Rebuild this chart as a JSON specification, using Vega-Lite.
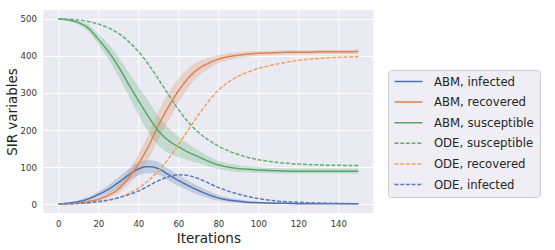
{
  "$schema": "https://vega.github.io/schema/vega-lite/v6.json",
  "width": 330,
  "height": 203,
  "autosize": "none",
  "padding": {"left": 43.3, "top": 10, "right": 181.7, "bottom": 37},
  "background": "white",
  "config": {
    "view": {"fill": "#eaeaf2", "stroke": null},
    "font": "DejaVu Sans",
    "axis": {"grid": true, "gridColor": "white", "gridWidth": 1, "domain": false, "ticks": false, "labelFontSize": 8.5, "labelColor": "#333333", "titleFontSize": 13.5, "titleFontWeight": "normal", "titleColor": "#222222"},
    "legend": {
      "orient": "none", "legendX": 344.7, "legendY": 60,
      "symbolType": "M-1,0L4.6,0", "symbolSize": 100, "symbolStrokeWidth": 1.5,
      "labelFontSize": 11.7, "labelColor": "#262626", "labelOffset": 28.4,
      "rowPadding": 7.6, "padding": 5.5, "fillColor": "#eeeef4", "strokeColor": "#cccccc", "cornerRadius": 3
    }
  },
  "datasets": {
    "abm": [
      {"t":0,"s":"ABM, infected","v":0,"lo":0,"hi":0},
      {"t":5,"s":"ABM, infected","v":3,"lo":2,"hi":4},
      {"t":10,"s":"ABM, infected","v":7,"lo":4,"hi":10},
      {"t":15,"s":"ABM, infected","v":14,"lo":9,"hi":19},
      {"t":20,"s":"ABM, infected","v":26,"lo":18,"hi":34},
      {"t":25,"s":"ABM, infected","v":40,"lo":29,"hi":51},
      {"t":30,"s":"ABM, infected","v":58,"lo":44,"hi":72},
      {"t":35,"s":"ABM, infected","v":78,"lo":62,"hi":94},
      {"t":40,"s":"ABM, infected","v":95,"lo":77,"hi":113},
      {"t":45,"s":"ABM, infected","v":101,"lo":83,"hi":119},
      {"t":50,"s":"ABM, infected","v":96,"lo":79,"hi":113},
      {"t":55,"s":"ABM, infected","v":80,"lo":64,"hi":96},
      {"t":60,"s":"ABM, infected","v":64,"lo":49,"hi":79},
      {"t":65,"s":"ABM, infected","v":50,"lo":37,"hi":63},
      {"t":70,"s":"ABM, infected","v":37,"lo":25,"hi":49},
      {"t":75,"s":"ABM, infected","v":26,"lo":16,"hi":36},
      {"t":80,"s":"ABM, infected","v":17,"lo":9,"hi":25},
      {"t":85,"s":"ABM, infected","v":11,"lo":5,"hi":17},
      {"t":90,"s":"ABM, infected","v":8,"lo":3,"hi":13},
      {"t":95,"s":"ABM, infected","v":5,"lo":1,"hi":9},
      {"t":100,"s":"ABM, infected","v":4,"lo":1,"hi":7},
      {"t":105,"s":"ABM, infected","v":3,"lo":1,"hi":5},
      {"t":110,"s":"ABM, infected","v":2,"lo":0,"hi":4},
      {"t":115,"s":"ABM, infected","v":2,"lo":0,"hi":4},
      {"t":120,"s":"ABM, infected","v":1,"lo":0,"hi":2.5},
      {"t":125,"s":"ABM, infected","v":1,"lo":0,"hi":2},
      {"t":130,"s":"ABM, infected","v":1,"lo":0,"hi":2},
      {"t":135,"s":"ABM, infected","v":1,"lo":0,"hi":2},
      {"t":140,"s":"ABM, infected","v":1,"lo":0,"hi":2},
      {"t":145,"s":"ABM, infected","v":1,"lo":0,"hi":2},
      {"t":150,"s":"ABM, infected","v":1,"lo":0,"hi":2},

      {"t":0,"s":"ABM, recovered","v":0,"lo":0,"hi":0},
      {"t":5,"s":"ABM, recovered","v":1,"lo":0.5,"hi":1.5},
      {"t":10,"s":"ABM, recovered","v":3,"lo":2,"hi":4},
      {"t":15,"s":"ABM, recovered","v":7,"lo":5,"hi":9},
      {"t":20,"s":"ABM, recovered","v":13,"lo":9,"hi":17},
      {"t":25,"s":"ABM, recovered","v":24,"lo":17,"hi":31},
      {"t":30,"s":"ABM, recovered","v":40,"lo":29,"hi":51},
      {"t":35,"s":"ABM, recovered","v":70,"lo":52,"hi":88},
      {"t":40,"s":"ABM, recovered","v":108,"lo":82,"hi":134},
      {"t":45,"s":"ABM, recovered","v":155,"lo":122,"hi":188},
      {"t":50,"s":"ABM, recovered","v":212,"lo":174,"hi":250},
      {"t":55,"s":"ABM, recovered","v":262,"lo":224,"hi":300},
      {"t":60,"s":"ABM, recovered","v":305,"lo":272,"hi":338},
      {"t":65,"s":"ABM, recovered","v":340,"lo":314,"hi":366},
      {"t":70,"s":"ABM, recovered","v":365,"lo":345,"hi":385},
      {"t":75,"s":"ABM, recovered","v":380,"lo":365,"hi":395},
      {"t":80,"s":"ABM, recovered","v":391,"lo":380,"hi":402},
      {"t":85,"s":"ABM, recovered","v":398,"lo":389,"hi":407},
      {"t":90,"s":"ABM, recovered","v":402,"lo":394,"hi":410},
      {"t":95,"s":"ABM, recovered","v":405,"lo":398,"hi":412},
      {"t":100,"s":"ABM, recovered","v":407,"lo":401,"hi":413},
      {"t":105,"s":"ABM, recovered","v":408,"lo":402,"hi":414},
      {"t":110,"s":"ABM, recovered","v":409,"lo":403,"hi":415},
      {"t":115,"s":"ABM, recovered","v":410,"lo":404,"hi":416},
      {"t":120,"s":"ABM, recovered","v":410,"lo":404,"hi":416},
      {"t":125,"s":"ABM, recovered","v":410,"lo":404,"hi":416},
      {"t":130,"s":"ABM, recovered","v":411,"lo":405,"hi":417},
      {"t":135,"s":"ABM, recovered","v":411,"lo":405,"hi":417},
      {"t":140,"s":"ABM, recovered","v":411,"lo":405,"hi":417},
      {"t":145,"s":"ABM, recovered","v":411,"lo":405,"hi":417},
      {"t":150,"s":"ABM, recovered","v":412,"lo":406,"hi":418},

      {"t":0,"s":"ABM, susceptible","v":500,"lo":500,"hi":500},
      {"t":5,"s":"ABM, susceptible","v":497,"lo":495,"hi":499},
      {"t":10,"s":"ABM, susceptible","v":490,"lo":485,"hi":495},
      {"t":15,"s":"ABM, susceptible","v":475,"lo":466,"hi":484},
      {"t":20,"s":"ABM, susceptible","v":445,"lo":431,"hi":459},
      {"t":25,"s":"ABM, susceptible","v":412,"lo":392,"hi":432},
      {"t":30,"s":"ABM, susceptible","v":372,"lo":346,"hi":398},
      {"t":35,"s":"ABM, susceptible","v":325,"lo":293,"hi":357},
      {"t":40,"s":"ABM, susceptible","v":280,"lo":242,"hi":318},
      {"t":45,"s":"ABM, susceptible","v":237,"lo":195,"hi":279},
      {"t":50,"s":"ABM, susceptible","v":198,"lo":158,"hi":238},
      {"t":55,"s":"ABM, susceptible","v":172,"lo":138,"hi":206},
      {"t":60,"s":"ABM, susceptible","v":155,"lo":127,"hi":183},
      {"t":65,"s":"ABM, susceptible","v":140,"lo":118,"hi":162},
      {"t":70,"s":"ABM, susceptible","v":128,"lo":111,"hi":145},
      {"t":75,"s":"ABM, susceptible","v":116,"lo":102,"hi":130},
      {"t":80,"s":"ABM, susceptible","v":106,"lo":95,"hi":117},
      {"t":85,"s":"ABM, susceptible","v":100,"lo":90,"hi":110},
      {"t":90,"s":"ABM, susceptible","v":96,"lo":87,"hi":105},
      {"t":95,"s":"ABM, susceptible","v":94,"lo":86,"hi":102},
      {"t":100,"s":"ABM, susceptible","v":92,"lo":84,"hi":100},
      {"t":105,"s":"ABM, susceptible","v":91,"lo":84,"hi":98},
      {"t":110,"s":"ABM, susceptible","v":90,"lo":83,"hi":97},
      {"t":115,"s":"ABM, susceptible","v":89,"lo":82,"hi":96},
      {"t":120,"s":"ABM, susceptible","v":89,"lo":82,"hi":96},
      {"t":125,"s":"ABM, susceptible","v":89,"lo":82,"hi":96},
      {"t":130,"s":"ABM, susceptible","v":89,"lo":82,"hi":96},
      {"t":135,"s":"ABM, susceptible","v":89,"lo":82,"hi":96},
      {"t":140,"s":"ABM, susceptible","v":89,"lo":82,"hi":96},
      {"t":145,"s":"ABM, susceptible","v":89,"lo":82,"hi":96},
      {"t":150,"s":"ABM, susceptible","v":89,"lo":82,"hi":96}
    ],
    "ode": [
      {"t":0,"s":"ODE, susceptible","v":500},{"t":5,"s":"ODE, susceptible","v":499},{"t":10,"s":"ODE, susceptible","v":497},{"t":15,"s":"ODE, susceptible","v":493},{"t":20,"s":"ODE, susceptible","v":486},{"t":25,"s":"ODE, susceptible","v":476},{"t":30,"s":"ODE, susceptible","v":461},{"t":35,"s":"ODE, susceptible","v":440},{"t":40,"s":"ODE, susceptible","v":412},{"t":45,"s":"ODE, susceptible","v":378},{"t":50,"s":"ODE, susceptible","v":338},{"t":55,"s":"ODE, susceptible","v":296},{"t":60,"s":"ODE, susceptible","v":256},{"t":65,"s":"ODE, susceptible","v":221},{"t":70,"s":"ODE, susceptible","v":194},{"t":75,"s":"ODE, susceptible","v":173},{"t":80,"s":"ODE, susceptible","v":157},{"t":85,"s":"ODE, susceptible","v":144},{"t":90,"s":"ODE, susceptible","v":134},{"t":95,"s":"ODE, susceptible","v":126},{"t":100,"s":"ODE, susceptible","v":120},{"t":105,"s":"ODE, susceptible","v":116},{"t":110,"s":"ODE, susceptible","v":112},{"t":115,"s":"ODE, susceptible","v":110},{"t":120,"s":"ODE, susceptible","v":108},{"t":125,"s":"ODE, susceptible","v":107},{"t":130,"s":"ODE, susceptible","v":106},{"t":135,"s":"ODE, susceptible","v":105},{"t":140,"s":"ODE, susceptible","v":105},{"t":145,"s":"ODE, susceptible","v":104},{"t":150,"s":"ODE, susceptible","v":104},
      {"t":0,"s":"ODE, recovered","v":0},{"t":5,"s":"ODE, recovered","v":0.5},{"t":10,"s":"ODE, recovered","v":1.5},{"t":15,"s":"ODE, recovered","v":3},{"t":20,"s":"ODE, recovered","v":6},{"t":25,"s":"ODE, recovered","v":10},{"t":30,"s":"ODE, recovered","v":17},{"t":35,"s":"ODE, recovered","v":28},{"t":40,"s":"ODE, recovered","v":43},{"t":45,"s":"ODE, recovered","v":63},{"t":50,"s":"ODE, recovered","v":89},{"t":55,"s":"ODE, recovered","v":122},{"t":60,"s":"ODE, recovered","v":160},{"t":65,"s":"ODE, recovered","v":201},{"t":70,"s":"ODE, recovered","v":240},{"t":75,"s":"ODE, recovered","v":277},{"t":80,"s":"ODE, recovered","v":307},{"t":85,"s":"ODE, recovered","v":329},{"t":90,"s":"ODE, recovered","v":345},{"t":95,"s":"ODE, recovered","v":357},{"t":100,"s":"ODE, recovered","v":366},{"t":105,"s":"ODE, recovered","v":373},{"t":110,"s":"ODE, recovered","v":379},{"t":115,"s":"ODE, recovered","v":384},{"t":120,"s":"ODE, recovered","v":388},{"t":125,"s":"ODE, recovered","v":391},{"t":130,"s":"ODE, recovered","v":393},{"t":135,"s":"ODE, recovered","v":395},{"t":140,"s":"ODE, recovered","v":396},{"t":145,"s":"ODE, recovered","v":397},{"t":150,"s":"ODE, recovered","v":398},
      {"t":0,"s":"ODE, infected","v":0.5},{"t":5,"s":"ODE, infected","v":1},{"t":10,"s":"ODE, infected","v":2},{"t":15,"s":"ODE, infected","v":4},{"t":20,"s":"ODE, infected","v":7},{"t":25,"s":"ODE, infected","v":11},{"t":30,"s":"ODE, infected","v":17},{"t":35,"s":"ODE, infected","v":25},{"t":40,"s":"ODE, infected","v":35},{"t":45,"s":"ODE, infected","v":49},{"t":50,"s":"ODE, infected","v":63},{"t":55,"s":"ODE, infected","v":74},{"t":60,"s":"ODE, infected","v":79},{"t":65,"s":"ODE, infected","v":77},{"t":70,"s":"ODE, infected","v":69},{"t":75,"s":"ODE, infected","v":57},{"t":80,"s":"ODE, infected","v":45},{"t":85,"s":"ODE, infected","v":35},{"t":90,"s":"ODE, infected","v":27},{"t":95,"s":"ODE, infected","v":20},{"t":100,"s":"ODE, infected","v":15},{"t":105,"s":"ODE, infected","v":11},{"t":110,"s":"ODE, infected","v":8},{"t":115,"s":"ODE, infected","v":6},{"t":120,"s":"ODE, infected","v":5},{"t":125,"s":"ODE, infected","v":4},{"t":130,"s":"ODE, infected","v":3},{"t":135,"s":"ODE, infected","v":2.5},{"t":140,"s":"ODE, infected","v":2},{"t":145,"s":"ODE, infected","v":1.5},{"t":150,"s":"ODE, infected","v":1}
    ]
  },
  "encoding": {
    "x": {
      "field": "t", "type": "quantitative",
      "scale": {"domain": [-7.5, 157.5], "nice": false, "zero": false},
      "axis": {"values": [0,20,40,60,80,100,120,140], "labelPadding": 6, "title": "Iterations", "titleX": 165, "titleY": 29, "titleAlign": "center", "titleBaseline": "alphabetic"}
    }
  },
  "layer": [
    {
      "data": {"name": "abm"},
      "mark": {"type": "area", "opacity": 0.25, "interpolate": "monotone"},
      "encoding": {
        "y": {"field": "lo", "type": "quantitative", "scale": {"domain": [-24, 524], "nice": false, "zero": false},
              "axis": {"values": [0,100,200,300,400,500], "labelPadding": 7, "title": "SIR variables", "titleX": -31.3, "titleY": 101.5, "titleAngle": -90, "titleAlign": "center", "titleBaseline": "middle"}},
        "y2": {"field": "hi"},
        "fill": {"field": "s", "type": "nominal", "legend": null,
          "scale": {"domain": ["ABM, infected","ABM, recovered","ABM, susceptible"],
                    "range": ["#4c72b0","#dd8452","#55a868"]}}
      }
    },
    {
      "data": {"name": "abm"},
      "mark": {"type": "line", "strokeWidth": 1.5, "interpolate": "monotone"},
      "encoding": {
        "y": {"field": "v", "type": "quantitative", "title": "SIR variables"},
        "color": {"field": "s", "type": "nominal", "legend": {"title": null},
          "scale": {"domain": ["ABM, infected","ABM, recovered","ABM, susceptible","ODE, susceptible","ODE, recovered","ODE, infected"],
                    "range": ["#4c72b0","#dd8452","#55a868","#62b075","#f5a261","#5a7fbd"]}},
        "strokeDash": {"field": "s", "type": "nominal", "legend": {"title": null},
          "scale": {"domain": ["ABM, infected","ABM, recovered","ABM, susceptible","ODE, susceptible","ODE, recovered","ODE, infected"],
                    "range": [[1,0],[1,0],[1,0],[4,1.7],[4,1.7],[4,1.7]]}}
      }
    },
    {
      "data": {"name": "ode"},
      "mark": {"type": "line", "strokeWidth": 1.5, "interpolate": "monotone"},
      "encoding": {
        "y": {"field": "v", "type": "quantitative", "title": "SIR variables"},
        "color": {"field": "s", "type": "nominal", "legend": {"title": null}},
        "strokeDash": {"field": "s", "type": "nominal", "legend": {"title": null}}
      }
    }
  ]
}
